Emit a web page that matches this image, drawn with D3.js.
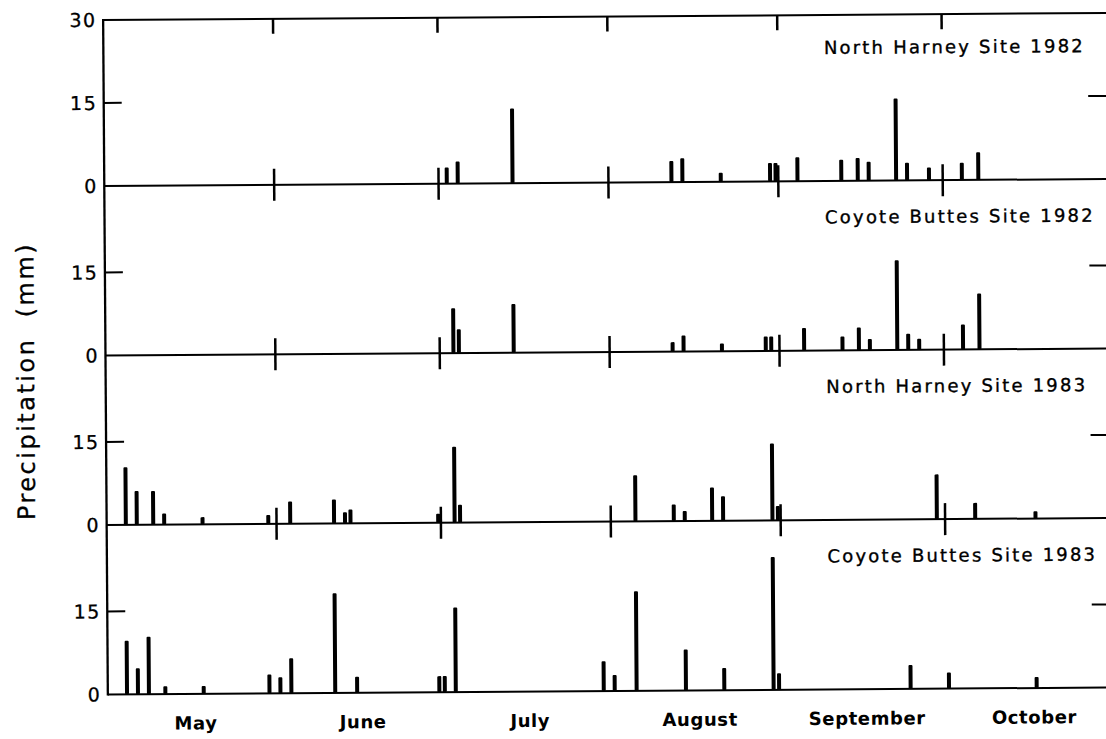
<!DOCTYPE html>
<html>
<head>
<meta charset="utf-8">
<script src="https://cdn.jsdelivr.net/npm/d3@7"></script>
<style>
  html, body { margin: 0; padding: 0; background: #fff; }
  svg { display: block; }
  text { font-family: "DejaVu Sans", sans-serif; fill: #000; }
</style>
</head>
<body>
<svg id="chart" width="1106" height="739"></svg>
<script>
// Daily precipitation (mm) at two sites, May–October, 1982 and 1983
const months = ["May", "June", "July", "August", "September", "October"];
const monthStarts = ["05-01", "06-01", "07-01", "08-01", "09-01", "10-01", "11-01"];
const panelTitles = ["North Harney Site 1982", "Coyote Buttes Site 1982",
                     "North Harney Site 1983", "Coyote Buttes Site 1983"];
const yTickValues = [0, 15, 30];

const northHarney1982 = [
  ["07-02", 2.9], ["07-04", 4.0], ["07-14", 13.5], ["08-12", 3.8], ["08-14", 4.3],
  ["08-21", 1.6], ["08-30", 3.3], ["08-31", 3.3], ["09-04", 4.3], ["09-12", 3.8],
  ["09-15", 4.1], ["09-17", 3.4], ["09-22", 14.8], ["09-24", 3.2], ["09-28", 2.3],
  ["10-04", 3.1], ["10-07", 5.0]
];
const coyoteButtes1982 = [
  ["07-03", 8.1], ["07-04", 4.3], ["07-14", 8.8], ["08-12", 1.7], ["08-14", 2.9],
  ["08-21", 1.4], ["08-29", 2.6], ["08-30", 2.6], ["09-05", 4.1], ["09-12", 2.5],
  ["09-15", 4.1], ["09-17", 2.0], ["09-22", 16.2], ["09-24", 2.9], ["09-26", 2.0],
  ["10-04", 4.5], ["10-07", 10.1]
];
const northHarney1983 = [
  ["05-04", 10.4], ["05-06", 6.1], ["05-09", 6.1], ["05-11", 2.0], ["05-18", 1.3],
  ["05-30", 1.6], ["06-03", 4.0], ["06-11", 4.3], ["06-13", 2.0], ["06-14", 2.5],
  ["06-30", 1.6], ["07-03", 13.7], ["07-04", 3.2], ["08-05", 8.3], ["08-12", 3.0],
  ["08-14", 1.8], ["08-19", 6.0], ["08-21", 4.4], ["08-30", 13.9], ["08-31", 2.6],
  ["09-29", 8.1], ["10-06", 2.9], ["10-17", 1.3]
];
const coyoteButtes1983 = [
  ["05-04", 9.7], ["05-06", 4.7], ["05-08", 10.4], ["05-11", 1.4], ["05-18", 1.4],
  ["05-30", 3.4], ["06-01", 2.9], ["06-03", 6.3], ["06-11", 18.0], ["06-15", 2.9],
  ["06-30", 2.9], ["07-01", 2.9], ["07-03", 15.3], ["07-30", 5.4], ["08-01", 2.9],
  ["08-05", 18.0], ["08-14", 7.4], ["08-21", 4.0], ["08-30", 24.0], ["08-31", 3.0],
  ["09-24", 4.3], ["10-01", 2.9], ["10-17", 2.0]
];
const panels = [northHarney1982, coyoteButtes1982, northHarney1983, coyoteButtes1983];

// ---- layout ----
const parse = d3.timeParse("%m-%d");
const axisX = 105.5;
const dayW = 5.48;
const firstBase = 182.5;
const panelStep = 169.5;
const panelH = 166;
const rightEdge = 1112;

const x = d3.scaleTime()
  .domain([parse("05-01"), parse("11-01")])
  .range([axisX, axisX + 184 * dayW]);

const yScales = panels.map((_, i) => {
  const base = firstBase + i * panelStep;
  return d3.scaleLinear().domain([0, 30]).range([base, base - panelH]);
});

const svg = d3.select("#chart");
// the whole sheet sits very slightly askew
const g = svg.append("g").attr("transform", "rotate(-0.4, 605, 357)");

const lineW = 2;
const frameTop = yScales[0](30);
const frameBottom = yScales[3](0);

// frame: left axis and top border
g.append("line").attr("x1", axisX).attr("x2", axisX).attr("y1", frameTop - 1).attr("y2", frameBottom + 1)
  .attr("stroke", "#000").attr("stroke-width", 2.3);
g.append("line").attr("x1", axisX).attr("x2", rightEdge).attr("y1", frameTop).attr("y2", frameTop)
  .attr("stroke", "#000").attr("stroke-width", lineW);

// month boundary ticks hanging from the top border
const boundaries = monthStarts.slice(1, 6).map(parse);
g.selectAll(".topTick").data(boundaries).join("line")
  .attr("x1", d => x(d)).attr("x2", d => x(d))
  .attr("y1", frameTop).attr("y2", frameTop + 15)
  .attr("stroke", "#000").attr("stroke-width", 2.5);

const labelStyle = sel => sel
  .attr("text-anchor", "end").attr("font-size", 19).attr("letter-spacing", 1.5)
  .attr("stroke", "#000").attr("stroke-width", 0.3);

// y tick labels: 30 once at the top, 15 and 0 on every panel
g.append("text").attr("x", 99).attr("y", frameTop).attr("dy", "0.36em")
  .call(labelStyle)
  .text(yTickValues[2]);

panels.forEach((data, i) => {
  const y = yScales[i];
  const pg = g.append("g");

  // zero line
  pg.append("line").attr("x1", axisX).attr("x2", rightEdge)
    .attr("y1", y(0)).attr("y2", y(0))
    .attr("stroke", "#000").attr("stroke-width", lineW);

  // 15 mm ticks, left and right
  pg.append("line").attr("x1", axisX).attr("x2", axisX + 18)
    .attr("y1", y(15)).attr("y2", y(15))
    .attr("stroke", "#000").attr("stroke-width", lineW);
  pg.append("line").attr("x1", 1090).attr("x2", rightEdge)
    .attr("y1", y(15)).attr("y2", y(15))
    .attr("stroke", "#000").attr("stroke-width", lineW);

  // tick labels
  pg.selectAll(".ylab").data(yTickValues.slice(0, 2)).join("text")
    .attr("x", 99).attr("y", d => y(d)).attr("dy", "0.36em")
    .call(labelStyle)
    .text(d => d);

  // month boundary ticks across the zero line (not on the bottom panel)
  if (i < 3) {
    pg.selectAll(".mTick").data(boundaries).join("line")
      .attr("x1", d => x(d)).attr("x2", d => x(d))
      .attr("y1", y(0) - 16).attr("y2", y(0) + 16)
      .attr("stroke", "#000").attr("stroke-width", 2.5);
  }

  // daily precipitation bars
  pg.selectAll(".bar").data(data).join("rect")
    .attr("x", d => x(parse(d[0])) + dayW / 2 - 2)
    .attr("width", 4)
    .attr("y", d => y(d[1]))
    .attr("height", d => y(0) - y(d[1]))
    .attr("rx", 1)
    .attr("fill", "#000");

  // panel title
  pg.append("text").attr("x", 826).attr("y", y(0) - 127)
    .attr("font-size", 18).attr("letter-spacing", 2.2)
    .attr("stroke", "#000").attr("stroke-width", 0.35)
    .attr("xml:space", "preserve")
    .text(panelTitles[i]);
});

// month names under the bottom panel
const monthMid = months.map((m, i) => {
  const a = x(parse(monthStarts[i])), b = x(parse(monthStarts[i + 1]));
  return { name: m, cx: (a + b) / 2 + 3 };
});
g.selectAll(".month").data(monthMid).join("text")
  .attr("x", d => d.cx).attr("y", 726.5)
  .attr("text-anchor", "middle").attr("font-size", 18).attr("font-weight", "bold")
  .attr("letter-spacing", 0.6)
  .text(d => d.name);

// y-axis title
g.append("text")
  .attr("transform", "translate(34, 377) rotate(-90)")
  .attr("text-anchor", "middle").attr("font-size", 24).attr("letter-spacing", 2.5)
  .attr("stroke", "#000").attr("stroke-width", 0.3)
  .attr("xml:space", "preserve")
  .text("Precipitation  (mm)");
</script>
</body>
</html>
